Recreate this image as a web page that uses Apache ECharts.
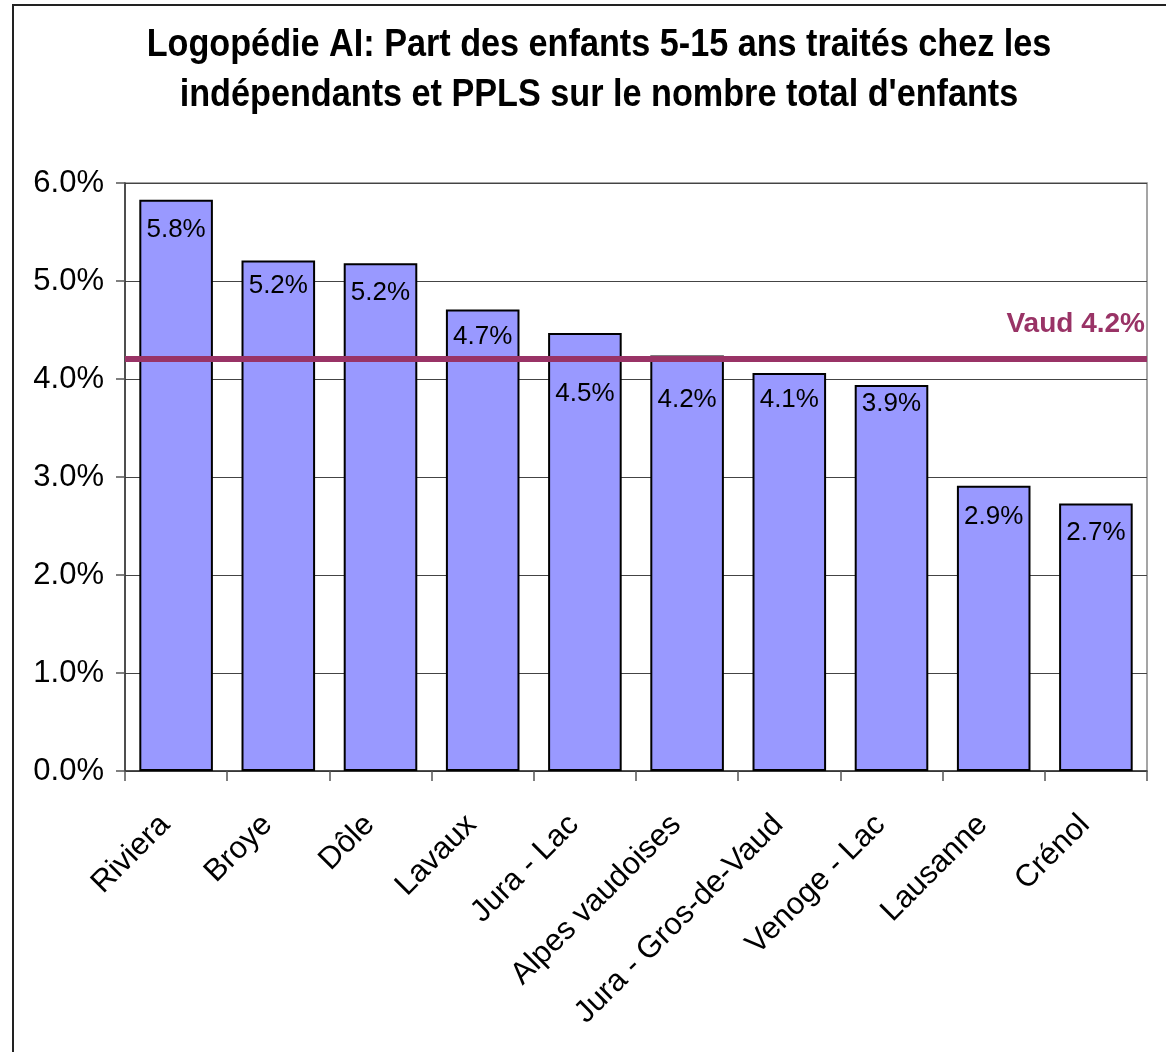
<!DOCTYPE html>
<html>
<head>
<meta charset="utf-8">
<script src="https://cdn.jsdelivr.net/npm/echarts@6/dist/echarts.min.js"></script>
<style>
html,body{margin:0;padding:0;background:#fff;}
#chart{width:1166px;height:1052px;}
</style>
</head>
<body>
<div id="chart"></div>
<script>
// ---- data ----
const categories = ['Riviera','Broye','Dôle','Lavaux','Jura - Lac','Alpes vaudoises','Jura - Gros-de-Vaud','Venoge - Lac','Lausanne','Crénol'];
const shares = [5.83, 5.21, 5.18, 4.71, 4.47, 4.24, 4.06, 3.94, 2.91, 2.73];
const vaudAverage = 4.21;
const vaudLabel = 'Vaud';
const yTicks = [0, 1, 2, 3, 4, 5, 6];
const titleLines = ["Logopédie AI: Part des enfants 5-15 ans traités chez les", "indépendants et PPLS sur le nombre total d'enfants"];

// ---- style (label placement inside bars) ----
const labelDistances = [17, 12, 16, 14, 48, 31, 14, 6, 18, 16];

const fmt = v => v.toFixed(1) + '%';
const chart = echarts.init(document.getElementById('chart'), null, {renderer: 'canvas'});

const option = {
  backgroundColor: '#fff',
  animation: false,
  graphic: [{
    type: 'rect',
    shape: {x: 13, y: 5, width: 1200, height: 1100},
    style: {fill: 'none', stroke: '#222', lineWidth: 2},
    silent: true
  }, {
    type: 'text',
    x: 599,
    y: 21,
    scaleX: 0.9,
    silent: true,
    style: {
      text: titleLines.join('\n'),
      fontFamily: '"Liberation Sans", Arial, sans-serif',
      fontWeight: 'bold',
      fontSize: 38,
      lineHeight: 50,
      fill: '#000',
      align: 'center',
      verticalAlign: 'top'
    }
  }],
  grid: {
    left: 125, right: 19, top: 183, bottom: 281,
    show: true, borderColor: '#888', borderWidth: 1.5, backgroundColor: 'transparent'
  },
  xAxis: {
    type: 'category',
    data: categories,
    boundaryGap: true,
    axisLine: {lineStyle: {color: '#333', width: 1.5}},
    axisTick: {show: true, alignWithLabel: false, length: 10, lineStyle: {color: '#555', width: 1.5}},
    axisLabel: {
      rotate: 45,
      interval: 0,
      margin: 60,
      verticalAlign: 'bottom',
      fontFamily: '"Liberation Sans", Arial, sans-serif',
      fontSize: 31,
      color: '#000'
    }
  },
  yAxis: {
    type: 'value',
    min: yTicks[0],
    max: yTicks[yTicks.length - 1],
    interval: 1,
    axisLine: {show: true, lineStyle: {color: '#333', width: 1.5}},
    axisTick: {show: true, length: 9, lineStyle: {color: '#555', width: 1.5}},
    splitLine: {show: true, lineStyle: {color: '#444', width: 1}},
    axisLabel: {
      formatter: v => v.toFixed(1) + '%',
      margin: 21,
      fontFamily: '"Liberation Sans", Arial, sans-serif',
      fontSize: 31,
      color: '#000'
    }
  },
  series: [{
    type: 'bar',
    data: shares.map((v, i) => ({
      value: v,
      label: {distance: labelDistances[i]}
    })),
    barCategoryGap: '28%',
    itemStyle: {color: '#9999FF', borderColor: '#000', borderWidth: 2},
    label: {
      show: true,
      position: 'insideTop',
      formatter: p => fmt(p.value),
      fontFamily: '"Liberation Sans", Arial, sans-serif',
      fontSize: 26,
      color: '#000'
    },
    markLine: {
      silent: true,
      symbol: ['none', 'none'],
      lineStyle: {color: '#993366', width: 6, type: 'solid'},
      label: {
        show: true,
        position: 'insideEndTop',
        formatter: () => vaudLabel + ' ' + fmt(vaudAverage),
        fontFamily: '"Liberation Sans", Arial, sans-serif',
        fontWeight: 'bold',
        fontSize: 28,
        color: '#993366',
        distance: [2, 20]
      },
      data: [{yAxis: vaudAverage}]
    }
  }]
};
chart.setOption(option);
</script>
</body>
</html>
